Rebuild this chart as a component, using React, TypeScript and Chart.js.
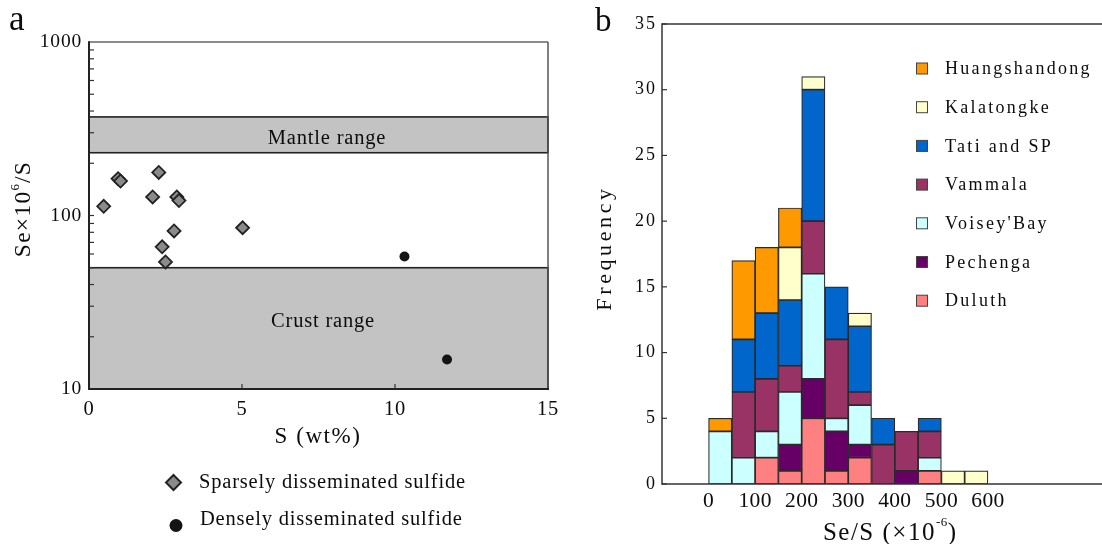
import React, { useEffect, useRef } from 'react';
import { Chart, registerables } from 'chart.js';
Chart.register(...registerables);

const FONT = '"Liberation Serif", "Times New Roman", serif';
const INK = '#0c0c0c';

// ---------- Panel a data ----------
const sparseS = [0.48, 0.95, 1.03, 2.28, 2.08, 2.87, 2.94, 2.78, 2.39, 2.5, 5.02];
const sparseSe = [113, 163, 158, 177, 128, 128, 122, 81.5, 66, 54, 85];
const denseS = [10.31, 11.7];
const denseSe = [58, 14.8];
const mantleRange = [230, 370];
const crustRange = [10, 50];
const aXTicks = [0, 5, 10, 15];
const aXMinorTicks = [5, 10];
const aYTicks = [10, 100, 1000];
const aYMinorTicks = [20, 30, 40, 50, 60, 70, 80, 90, 100, 200, 300, 400, 500, 600, 700, 800, 900];

// ---------- Panel b data ----------
const binCenters = [25, 75, 125, 175, 225, 275, 325, 375, 425, 475, 525, 575];
const bXTicks = [0, 100, 200, 300, 400, 500, 600];
const bYTicks = [0, 5, 10, 15, 20, 25, 30, 35];
const duluth = [0, 0, 2, 1, 5, 1, 2, 0, 0, 1, 0, 0];
const pechenga = [0, 0, 0, 2, 3, 3, 1, 0, 1, 0, 0, 0];
const voisey = [4, 2, 2, 4, 8, 1, 3, 0, 0, 1, 0, 0];
const vammala = [0, 5, 4, 2, 4, 6, 1, 3, 3, 2, 0, 0];
const tati = [0, 4, 5, 5, 10, 4, 5, 2, 0, 1, 0, 0];
const kalatongke = [0, 0, 0, 4, 1, 0, 1, 0, 0, 0, 1, 1];
const huangshandong = [1, 6, 5, 3, 0, 0, 0, 0, 0, 0, 0, 0];

// stacking order bottom -> top
const seriesNames = ['Duluth', 'Pechenga', "Voisey'Bay", 'Vammala', 'Tati and SP', 'Kalatongke', 'Huangshandong'];
const seriesValues = [duluth, pechenga, voisey, vammala, tati, kalatongke, huangshandong];
const seriesColors = ['#ff8080', '#660066', '#ccffff', '#993366', '#0066cc', '#ffffcc', '#ff9900'];

type Seg = { t: string; size: number; dy?: number; sp?: number };

function segWidth(ctx: CanvasRenderingContext2D, segs: Seg[]) {
  let w = 0;
  for (const s of segs) {
    ctx.font = `${s.size}px ${FONT}`;
    (ctx as any).letterSpacing = `${s.sp ?? 0}px`;
    w += ctx.measureText(s.t).width;
  }
  return w;
}

function drawSegs(
  ctx: CanvasRenderingContext2D,
  segs: Seg[],
  x: number,
  y: number,
  align: 'left' | 'center' | 'right' = 'left',
  rotate = false,
) {
  ctx.save();
  ctx.fillStyle = INK;
  ctx.textBaseline = 'middle';
  ctx.textAlign = 'left';
  ctx.translate(x, y);
  if (rotate) ctx.rotate(-Math.PI / 2);
  const w = segWidth(ctx, segs);
  let cx = align === 'left' ? 0 : align === 'center' ? -w / 2 : -w;
  for (const s of segs) {
    ctx.font = `${s.size}px ${FONT}`;
    (ctx as any).letterSpacing = `${s.sp ?? 0}px`;
    ctx.fillText(s.t, cx, s.dy ?? 0);
    cx += ctx.measureText(s.t).width;
  }
  ctx.restore();
}

function txt(
  ctx: CanvasRenderingContext2D,
  t: string,
  x: number,
  y: number,
  size: number,
  sp: number,
  align: 'left' | 'center' | 'right' = 'left',
) {
  drawSegs(ctx, [{ t, size, sp }], x, y, align);
}

function line(ctx: CanvasRenderingContext2D, x1: number, y1: number, x2: number, y2: number, color: string, w: number) {
  ctx.save();
  ctx.strokeStyle = color;
  ctx.lineWidth = w;
  ctx.beginPath();
  ctx.moveTo(x1, y1);
  ctx.lineTo(x2, y2);
  ctx.stroke();
  ctx.restore();
}

const panelAPlugin = {
  id: 'panelA',
  beforeDatasetsDraw(chart: any) {
    const { ctx, chartArea: ca, scales } = chart;
    const y = scales.y;
    const band = (lo: number, hi: number) => {
      const yt = y.getPixelForValue(hi);
      const yb = y.getPixelForValue(lo);
      ctx.save();
      ctx.fillStyle = '#c3c3c3';
      ctx.fillRect(ca.left, yt, ca.right - ca.left, yb - yt);
      ctx.strokeStyle = '#222';
      ctx.lineWidth = 1.6;
      ctx.strokeRect(ca.left, yt, ca.right - ca.left, yb - yt);
      ctx.restore();
    };
    band(mantleRange[0], mantleRange[1]);
    band(crustRange[0], crustRange[1]);
    txt(ctx, 'Mantle range', 327, 139, 20.5, 0.8, 'center');
    txt(ctx, 'Crust range', 323, 322, 20.5, 0.8, 'center');
  },
  afterDraw(chart: any) {
    const { ctx, chartArea: ca, scales } = chart;
    const { x, y } = scales;
    // frame
    line(ctx, ca.left, ca.top, ca.right, ca.top, '#666', 1.3);
    line(ctx, ca.right, ca.top, ca.right, ca.bottom, '#555', 1.5);
    line(ctx, ca.left, ca.top - 0.7, ca.left, ca.bottom + 1, '#222', 2);
    line(ctx, ca.left - 1, ca.bottom, ca.right + 1, ca.bottom, '#222', 2);
    // minor ticks (inward)
    for (const v of aYMinorTicks) {
      const py = y.getPixelForValue(v);
      line(ctx, ca.left, py, ca.left + 5, py, '#333', 1.2);
    }
    for (const v of aXMinorTicks) {
      const px = x.getPixelForValue(v);
      line(ctx, px, ca.bottom, px, ca.bottom - 5, '#333', 1.2);
    }
    // tick labels
    for (const v of aYTicks) {
      txt(ctx, String(v), 82, y.getPixelForValue(v), 19.5, 0.8, 'right');
    }
    for (const v of aXTicks) {
      txt(ctx, String(v), x.getPixelForValue(v), 410, 20.5, 0.8, 'center');
    }
    // titles
    txt(ctx, 'S (wt%)', 318, 437, 23, 1.6, 'center');
    drawSegs(
      ctx,
      [
        { t: 'Se×10', size: 23.5, sp: 1.3 },
        { t: '6', size: 13, dy: -8, sp: 1 },
        { t: '/S', size: 23.5, sp: 1.3 },
      ],
      24,
      209,
      'center',
      true,
    );
    // panel letter
    ctx.save();
    ctx.fillStyle = INK;
    ctx.font = `35px ${FONT}`;
    ctx.textBaseline = 'alphabetic';
    ctx.fillText('a', 9, 30);
    ctx.restore();
    // legend
    ctx.save();
    ctx.beginPath();
    ctx.moveTo(173.5, 475);
    ctx.lineTo(181, 482.5);
    ctx.lineTo(173.5, 490);
    ctx.lineTo(166, 482.5);
    ctx.closePath();
    ctx.fillStyle = '#8a8a8a';
    ctx.fill();
    ctx.strokeStyle = '#222';
    ctx.lineWidth = 2;
    ctx.stroke();
    ctx.beginPath();
    ctx.arc(176, 525.5, 6.5, 0, Math.PI * 2);
    ctx.fillStyle = '#141414';
    ctx.fill();
    ctx.restore();
    txt(ctx, 'Sparsely disseminated sulfide', 199, 483, 20.5, 0.8, 'left');
    txt(ctx, 'Densely disseminated sulfide', 200, 520, 20.5, 0.8, 'left');
  },
};

const panelBPlugin = {
  id: 'panelB',
  afterDraw(chart: any) {
    const { ctx, chartArea: ca, scales } = chart;
    const { x, y } = scales;
    line(ctx, ca.left, ca.top, chart.width, ca.top, '#333', 1.5);
    line(ctx, ca.left, ca.top - 0.7, ca.left, ca.bottom + 0.7, '#333', 1.5);
    line(ctx, ca.left, ca.bottom, chart.width, ca.bottom, '#333', 1.5);
    for (const v of bYTicks) {
      const py = y.getPixelForValue(v);
      line(ctx, ca.left, py, ca.left + 5, py, '#333', 1.2);
      txt(ctx, String(v), 97, py, 18, 2, 'right');
    }
    for (const v of bXTicks) {
      txt(ctx, String(v), x.getPixelForValue(v), 501, 21.5, 0.3, 'center');
    }
    drawSegs(
      ctx,
      [
        { t: 'Se/S (×10', size: 25, sp: 1.5 },
        { t: '-6', size: 13, dy: -10, sp: 0.5 },
        { t: ')', size: 25, sp: 1 },
      ],
      330,
      533,
      'center',
    );
    drawSegs(ctx, [{ t: 'Frequency', size: 22, sp: 3.6 }], 45, 248, 'center', true);
    ctx.save();
    ctx.fillStyle = INK;
    ctx.font = `33px ${FONT}`;
    ctx.textBaseline = 'alphabetic';
    ctx.fillText('b', 35, 31);
    ctx.restore();
    // legend (top -> bottom is reverse stacking order)
    for (let i = 0; i < seriesNames.length; i++) {
      const idx = seriesNames.length - 1 - i;
      const cy = 68.5 + i * 38.7;
      ctx.save();
      ctx.fillStyle = seriesColors[idx];
      ctx.fillRect(356.5, cy - 5.5, 11, 11);
      ctx.strokeStyle = '#444';
      ctx.lineWidth = 1;
      ctx.strokeRect(356.5, cy - 5.5, 11, 11);
      ctx.restore();
      txt(ctx, seriesNames[idx], 385, cy + 1, 18, 2.3, 'left');
    }
  },
};

export default function App() {
  const aRef = useRef<HTMLCanvasElement>(null);
  const bRef = useRef<HTMLCanvasElement>(null);

  useEffect(() => {
    const chartA = new Chart(aRef.current as HTMLCanvasElement, {
      type: 'scatter',
      data: {
        datasets: [
          {
            label: 'Sparsely disseminated sulfide',
            data: sparseS.map((s, i) => ({ x: s, y: sparseSe[i] })),
            pointStyle: 'rectRot',
            pointRadius: 6.5,
            backgroundColor: '#8a8a8a',
            borderColor: '#222',
            borderWidth: 1.8,
          },
          {
            label: 'Densely disseminated sulfide',
            data: denseS.map((s, i) => ({ x: s, y: denseSe[i] })),
            pointStyle: 'circle',
            pointRadius: 5,
            backgroundColor: '#141414',
            borderColor: '#141414',
            borderWidth: 0,
          },
        ],
      },
      options: {
        responsive: false,
        animation: false,
        events: [],
        devicePixelRatio: 1,
        layout: { padding: { left: 89, top: 42, right: 12, bottom: 155 } },
        plugins: { legend: { display: false }, tooltip: { enabled: false } },
        scales: {
          x: { type: 'linear', min: 0, max: 15, display: false },
          y: { type: 'logarithmic', min: 10, max: 1000, display: false },
        },
      },
      plugins: [panelAPlugin],
    });

    const chartB = new Chart(bRef.current as HTMLCanvasElement, {
      type: 'bar',
      data: {
        datasets: seriesNames.map((name, k) => ({
          label: name,
          data: binCenters.map((c, i) => ({ x: c, y: seriesValues[k][i] === 0 ? null : seriesValues[k][i] })),
          backgroundColor: seriesColors[k],
          borderColor: '#2a2a2a',
          borderWidth: 1.2,
          borderSkipped: false,
          barPercentage: 1,
          categoryPercentage: 1,
        })) as any,
      },
      options: {
        responsive: false,
        animation: false,
        events: [],
        devicePixelRatio: 1,
        layout: { padding: { left: 102, top: 24, right: 0, bottom: 60 } },
        plugins: { legend: { display: false }, tooltip: { enabled: false } },
        scales: {
          x: {
            type: 'linear',
            min: -100,
            max: 845,
            stacked: true,
            offset: false,
            display: false,
            grid: { offset: false },
          },
          y: { type: 'linear', min: 0, max: 35, stacked: true, display: false },
        },
      },
      plugins: [panelBPlugin],
    });

    return () => {
      chartA.destroy();
      chartB.destroy();
    };
  }, []);

  return (
    <div style={{ position: 'fixed', left: 0, top: 0, width: 1102, height: 544, background: '#fff' }}>
      <canvas ref={aRef} width={560} height={544} style={{ position: 'absolute', left: 0, top: 0 }} />
      <canvas ref={bRef} width={542} height={544} style={{ position: 'absolute', left: 560, top: 0 }} />
    </div>
  );
}
